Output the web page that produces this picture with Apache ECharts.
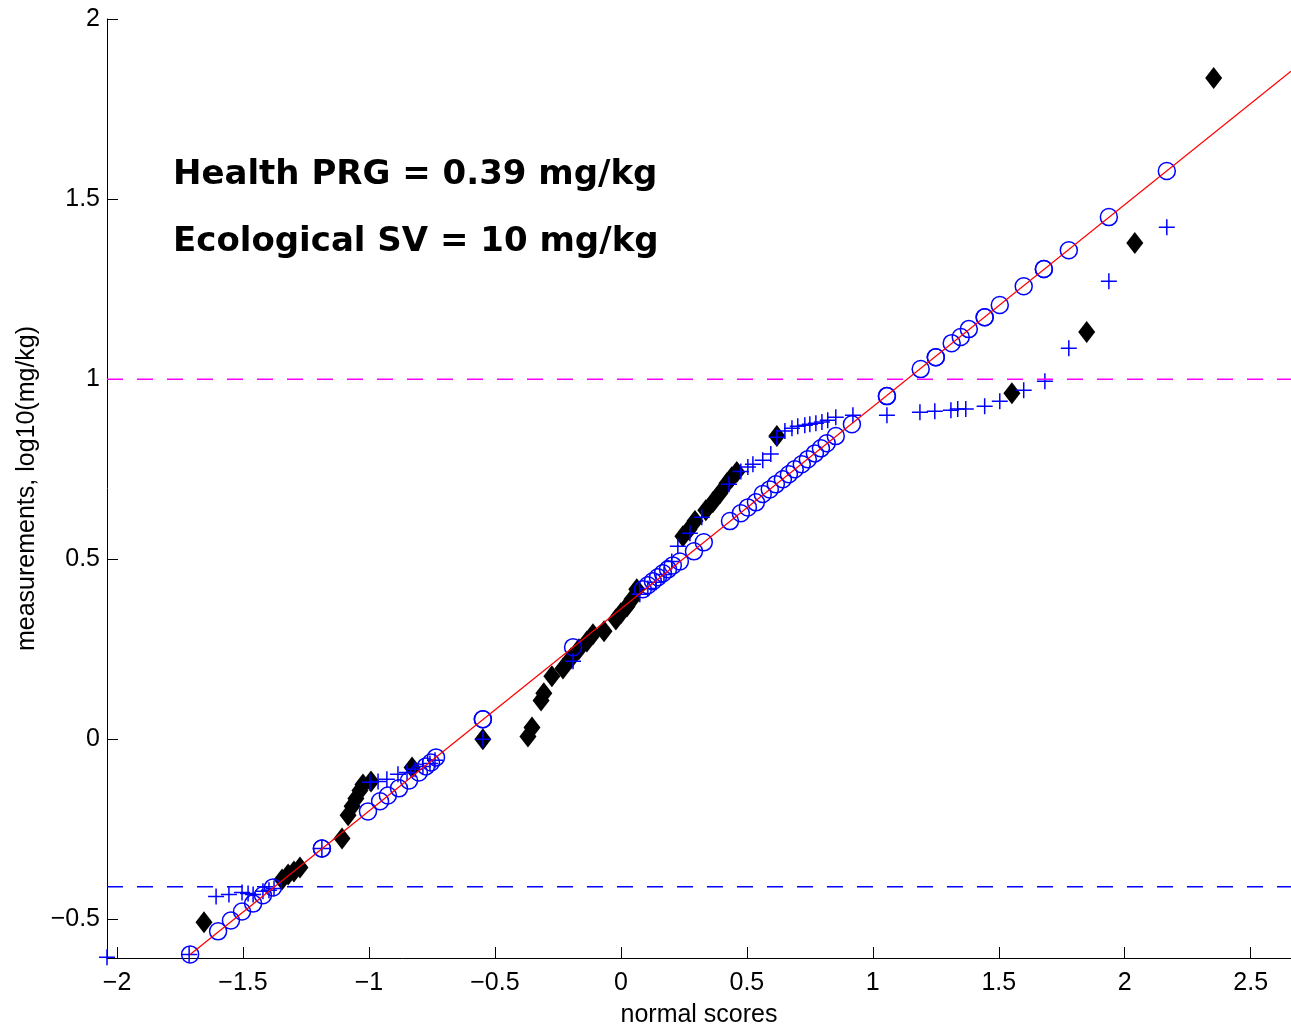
<!DOCTYPE html>
<html>
<head>
<meta charset="utf-8">
<script src="https://cdn.jsdelivr.net/npm/echarts@6/dist/echarts.min.js"></script>
<style>
  html, body { margin: 0; padding: 0; background: #fff; }
  #chart { width: 1291px; height: 1026px; }
</style>
</head>
<body>
<div id="chart"></div>
<script>
var circlePts = [
  [-1.710, -0.597], [-1.599, -0.533], [-1.548, -0.503], [-1.504, -0.478], [-1.460, -0.456],
  [-1.421, -0.433], [-1.381, -0.411], [-1.187, -0.303], [-1.187, -0.303], [-1.004, -0.200],
  [-0.956, -0.172], [-0.925, -0.156], [-0.881, -0.136], [-0.841, -0.114], [-0.802, -0.092],
  [-0.774, -0.075], [-0.754, -0.064], [-0.734, -0.050], [-0.548, 0.056], [-0.548, 0.056],
  [-0.190, 0.256], [0.087, 0.417], [0.107, 0.428], [0.127, 0.439], [0.147, 0.450],
  [0.167, 0.461], [0.187, 0.472], [0.206, 0.483], [0.234, 0.494], [0.290, 0.522],
  [0.329, 0.547], [0.433, 0.606], [0.476, 0.628], [0.504, 0.644], [0.536, 0.658],
  [0.563, 0.681], [0.591, 0.694], [0.615, 0.708], [0.643, 0.722], [0.667, 0.736],
  [0.690, 0.750], [0.718, 0.764], [0.742, 0.778], [0.770, 0.794], [0.794, 0.808],
  [0.817, 0.822], [0.853, 0.842], [0.917, 0.875], [1.056, 0.953], [1.056, 0.953],
  [1.190, 1.028], [1.250, 1.061], [1.250, 1.061], [1.313, 1.100], [1.349, 1.117],
  [1.381, 1.139], [1.444, 1.172], [1.444, 1.172], [1.504, 1.206], [1.599, 1.258],
  [1.679, 1.306], [1.679, 1.306], [1.778, 1.358], [1.937, 1.450], [2.167, 1.578]
];
var plusPts = [
  [-2.040, -0.605], [-1.714, -0.597], [-1.607, -0.436], [-1.556, -0.431], [-1.504, -0.425],
  [-1.480, -0.428], [-1.460, -0.431], [-1.421, -0.422], [-1.397, -0.419], [-1.377, -0.414],
  [-1.187, -0.303], [-0.996, -0.119], [-0.964, -0.117], [-0.929, -0.111], [-0.885, -0.097],
  [-0.849, -0.092], [-0.817, -0.083], [-0.786, -0.075], [-0.758, -0.067], [-0.738, -0.058],
  [-0.548, 0.000], [-0.190, 0.217], [0.075, 0.403], [0.107, 0.419], [0.139, 0.436],
  [0.171, 0.458], [0.202, 0.494], [0.226, 0.536], [0.274, 0.572], [0.321, 0.617],
  [0.429, 0.708], [0.476, 0.744], [0.504, 0.756], [0.524, 0.764], [0.563, 0.775],
  [0.595, 0.792], [0.619, 0.839], [0.651, 0.856], [0.679, 0.864], [0.702, 0.869],
  [0.730, 0.872], [0.750, 0.875], [0.774, 0.878], [0.798, 0.881], [0.821, 0.886],
  [0.853, 0.894], [0.921, 0.900], [1.056, 0.900], [1.187, 0.908], [1.246, 0.911],
  [1.310, 0.914], [1.337, 0.917], [1.369, 0.917], [1.444, 0.925], [1.504, 0.939],
  [1.599, 0.969], [1.683, 0.994], [1.778, 1.086], [1.937, 1.272], [2.167, 1.422]
];
var diamondPts = [
  [-1.655, -0.508], [-1.345, -0.389], [-1.321, -0.375], [-1.298, -0.367], [-1.274, -0.356],
  [-1.107, -0.275], [-1.083, -0.211], [-1.067, -0.186], [-1.052, -0.164], [-1.036, -0.142],
  [-1.024, -0.125], [-0.992, -0.117], [-0.829, -0.078], [-0.548, 0.000], [-0.369, 0.008],
  [-0.353, 0.033], [-0.317, 0.108], [-0.306, 0.128], [-0.274, 0.175], [-0.230, 0.197],
  [-0.198, 0.225], [-0.167, 0.250], [-0.135, 0.272], [-0.111, 0.292], [-0.067, 0.300],
  [-0.020, 0.333], [0.000, 0.350], [0.024, 0.369], [0.044, 0.389], [0.063, 0.417],
  [0.246, 0.564], [0.270, 0.583], [0.294, 0.606], [0.337, 0.636], [0.365, 0.658],
  [0.393, 0.683], [0.421, 0.711], [0.440, 0.728], [0.460, 0.742], [0.619, 0.842],
  [1.552, 0.961], [1.849, 1.131], [2.040, 1.378], [2.353, 1.836]
];
var fitLine = [[-1.710, -0.597], [2.660, 1.855]];
var healthPRG = -0.409;   // log10(0.39)
var ecoSV = 1;            // log10(10)
var xRange = [-2.04, 2.66];
var yRange = [-0.607, 2];
var xTicks = [-2, -1.5, -1, -0.5, 0, 0.5, 1, 1.5, 2, 2.5];
var yTicks = [-0.5, 0, 0.5, 1, 1.5, 2];
var notes = ['Health PRG = 0.39 mg/kg', 'Ecological SV = 10 mg/kg'];

function fmt(v) {
  return String(v).replace('-', '\u2212');
}

var chart = echarts.init(document.getElementById('chart'), null, { renderer: 'canvas' });
var blue = '#0000ff';

var option = {
  animation: false,
  backgroundColor: '#fff',
  textStyle: { fontFamily: 'Liberation Sans' },
  grid: { left: 107, right: 0, top: 19, bottom: 68, outerBoundsMode: 'none' },
  xAxis: {
    type: 'value', min: xRange[0], max: xRange[1],
    name: 'normal scores', nameLocation: 'middle', nameGap: 45,
    nameTextStyle: { fontSize: 25, color: '#000', fontFamily: 'Liberation Sans' },
    axisLine: { show: true, onZero: false, lineStyle: { color: '#000', width: 1 } },
    axisTick: { show: true, inside: true, length: 11, customValues: xTicks, lineStyle: { color: '#000' } },
    axisLabel: { customValues: xTicks, formatter: fmt, fontSize: 25, color: '#000', margin: 13 },
    splitLine: { show: false }
  },
  yAxis: {
    type: 'value', min: yRange[0], max: yRange[1],
    name: 'measurements, log10(mg/kg)', nameLocation: 'middle', nameGap: 66,
    nameTextStyle: { fontSize: 25, color: '#000', fontFamily: 'Liberation Sans' },
    axisLine: { show: true, onZero: false, lineStyle: { color: '#000', width: 1 } },
    axisTick: { show: true, inside: true, length: 11, customValues: yTicks, lineStyle: { color: '#000' } },
    axisLabel: { customValues: yTicks, formatter: fmt, fontSize: 25, color: '#000', margin: 7 },
    splitLine: { show: false }
  },
  graphic: [
    { type: 'text', left: 173, top: 158, style: { text: notes[0], font: 'bold 34px "DejaVu Sans"', fill: '#000' } },
    { type: 'text', left: 173, top: 225, style: { text: notes[1], font: 'bold 34px "DejaVu Sans"', fill: '#000' } }
  ],
  series: [
    {
      type: 'line', data: [[xRange[0], ecoSV], [xRange[1], ecoSV]], symbol: 'none',
      lineStyle: { color: '#ff00ff', width: 1.5, type: [16, 14] }, silent: true
    },
    {
      type: 'line', data: [[xRange[0], healthPRG], [xRange[1], healthPRG]], symbol: 'none',
      lineStyle: { color: '#0000ff', width: 1.5, type: [16, 14] }, silent: true
    },
    {
      type: 'scatter', data: diamondPts, symbol: 'diamond', symbolSize: [17, 22],
      itemStyle: { color: '#000', opacity: 1 }, clip: false
    },
    {
      type: 'scatter', data: circlePts, symbol: 'circle', symbolSize: 17,
      itemStyle: { color: 'rgba(0,0,0,0)', borderColor: blue, borderWidth: 1.5, opacity: 1 }, clip: false
    },
    {
      type: 'scatter', data: plusPts, symbol: 'path://M0,-8 L0,8 M-8,0 L8,0', symbolSize: 16,
      itemStyle: { color: 'none', borderColor: blue, borderWidth: 1.5, opacity: 1 }, clip: false
    },
    {
      type: 'line', data: fitLine, symbol: 'none',
      lineStyle: { color: '#ff0000', width: 1.3 }, silent: true
    }
  ]
};
chart.setOption(option);
</script>
</body>
</html>
